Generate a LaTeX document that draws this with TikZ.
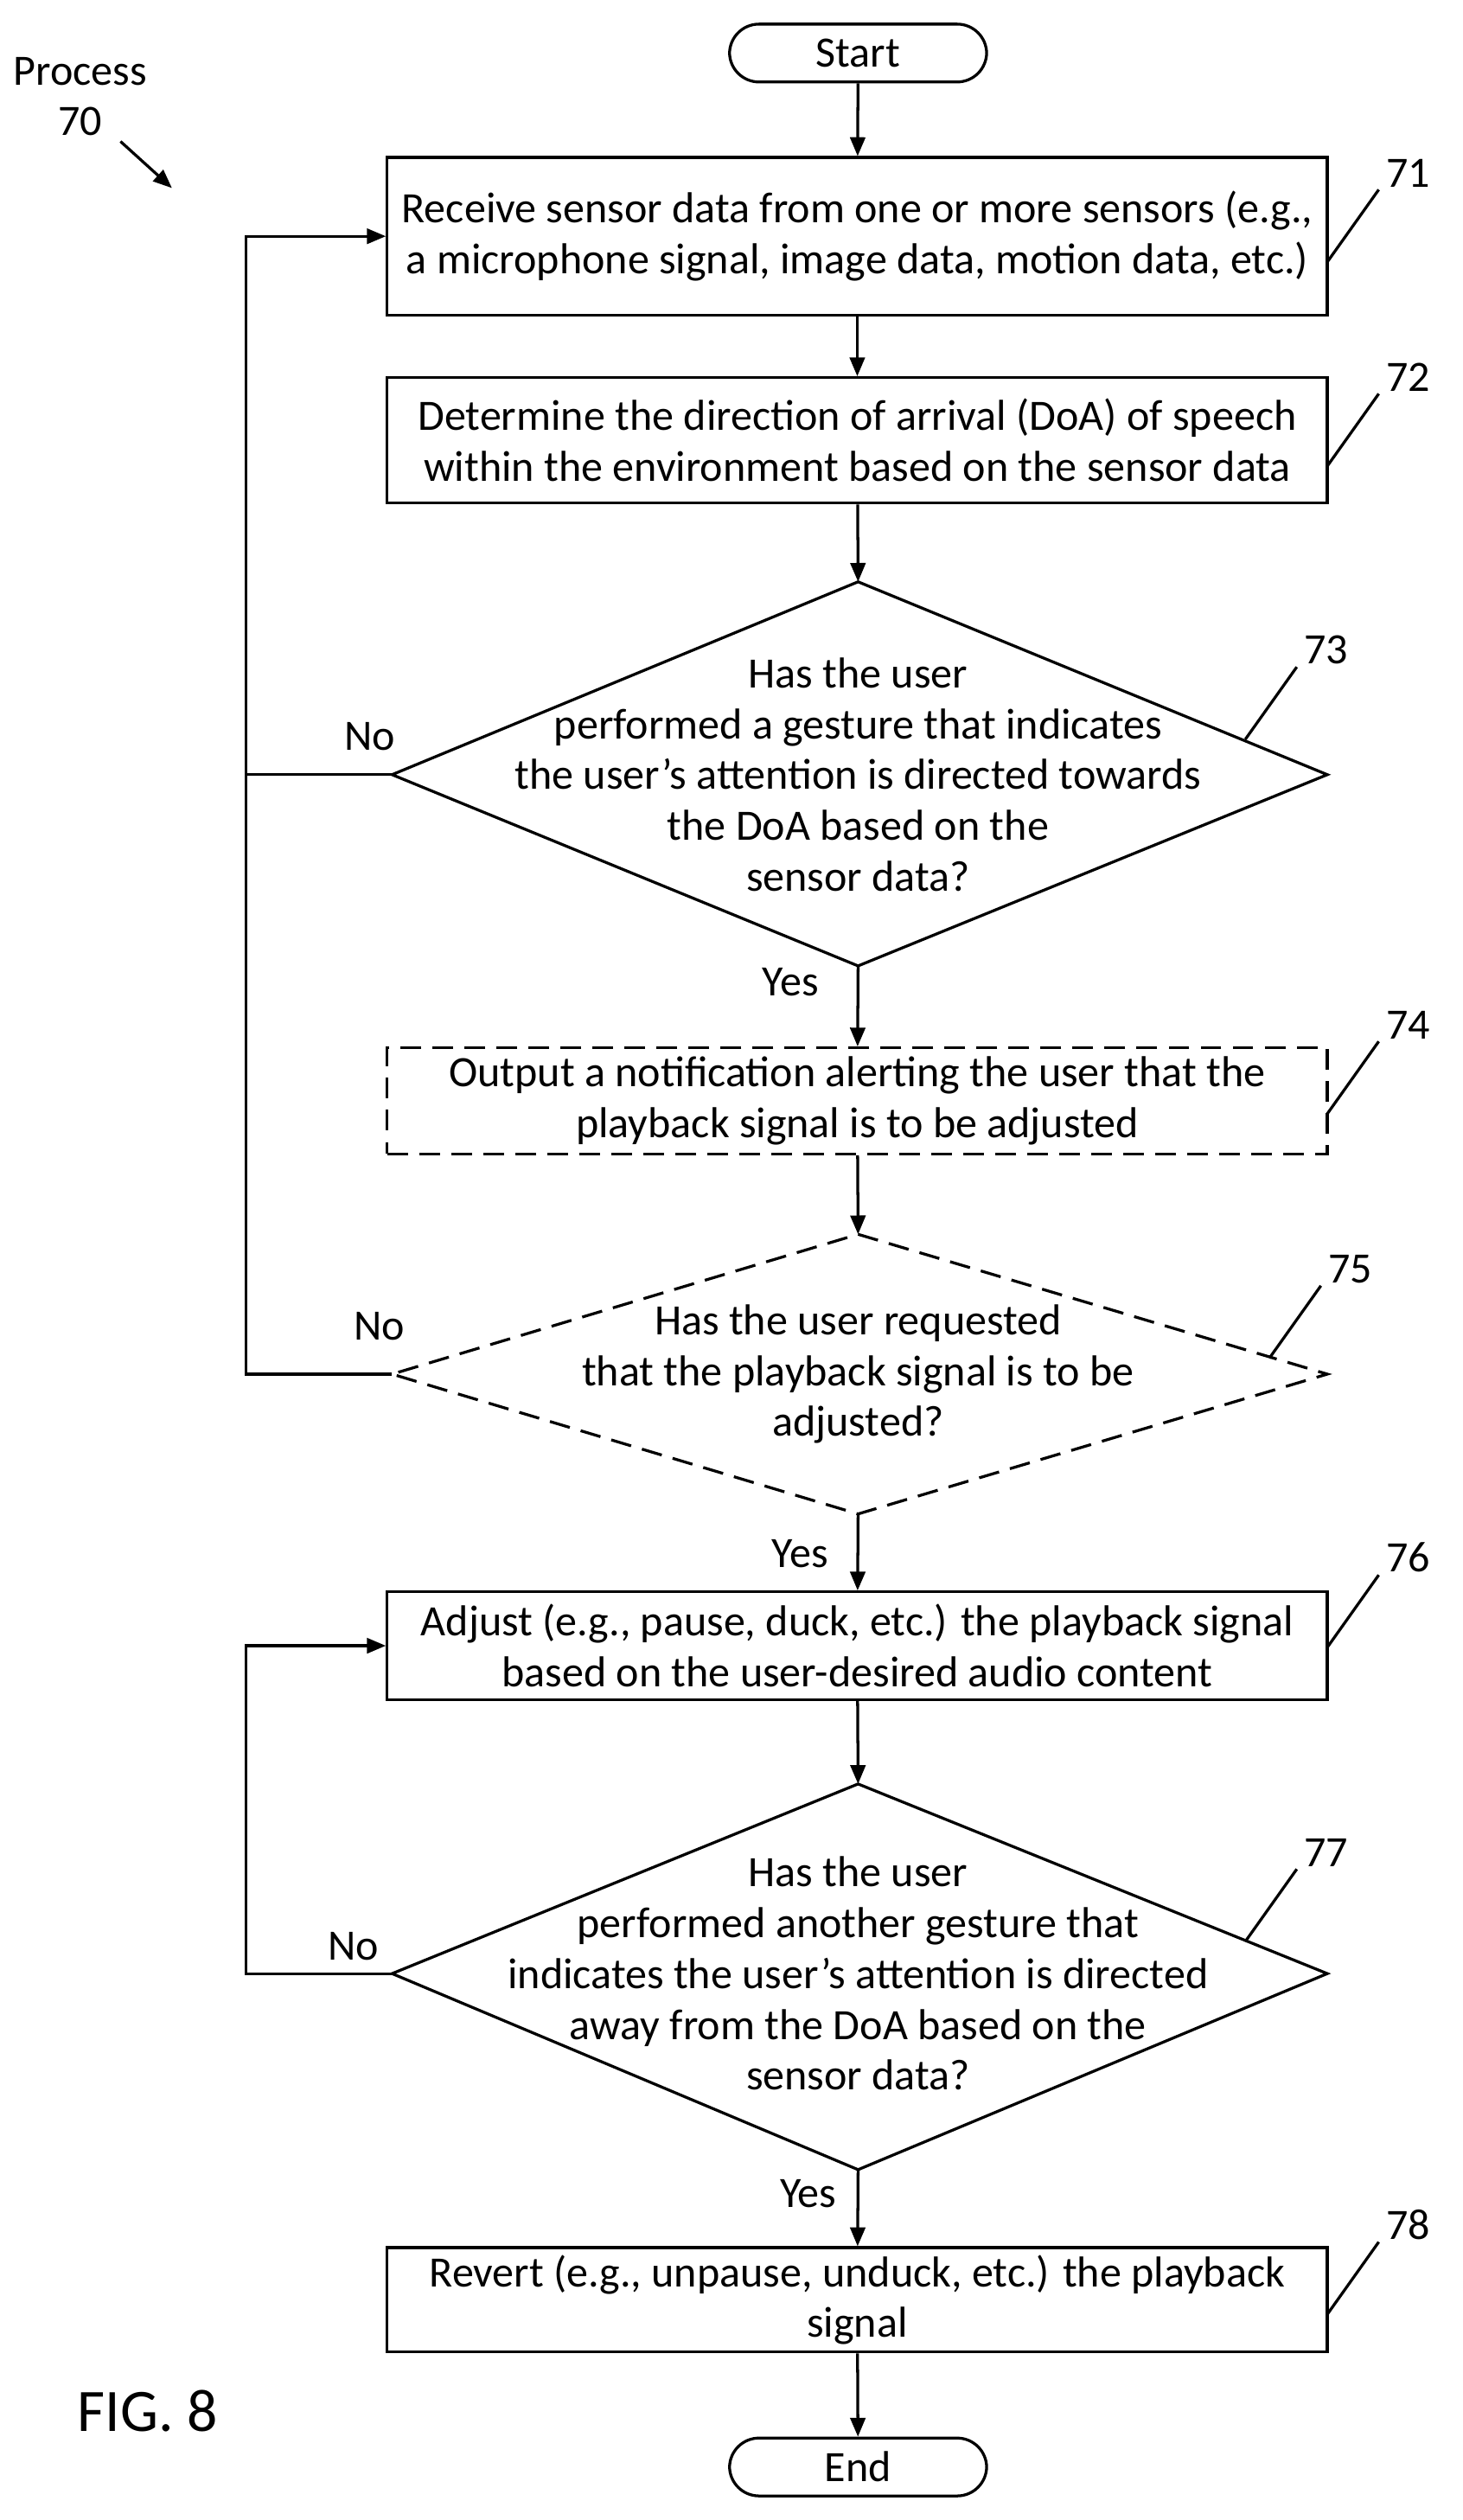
\documentclass[tikz,border=0pt]{standalone}
\usepackage{fontspec}
\setmainfont{Carlito}
\usetikzlibrary{arrows.meta}
\begin{document}
\begin{tikzpicture}[x=0.03cm,y=-0.03cm,
  every node/.style={font=\fontsize{23}{27}\selectfont},
  box/.style={draw,line width=1.5pt,minimum width=17.55cm,align=center,inner sep=0pt},
  term/.style={draw,line width=1.5pt,rounded corners=0.55cm,minimum width=4.8cm,minimum height=1.08cm},
  ln/.style={line width=1.5pt},
  arr/.style={line width=1.5pt,-{Triangle[length=10pt,width=8pt]}},
  dsh/.style={dash pattern=on 11pt off 6pt}]
\useasboundingbox (0,0) rectangle (910,1568);
\node[term] (start) at (534,33) {Start};
\node[box,minimum height=2.94cm] (b71) at (533.5,147) {Receive sensor data from one or more sensors (e.g.,\\a microphone signal, image data, motion data, etc.)};
\node[box,minimum height=2.34cm] (b72) at (533.5,274) {Determine the direction of arrival (DoA) of speech\\within the environment based on the sensor data};
\coordinate (d73t) at (534,362); \coordinate (d73b) at (534,601);
\coordinate (d73l) at (244,482); \coordinate (d73r) at (826,482);
\draw[ln] (d73t)--(d73r)--(d73b)--(d73l)--cycle;
\node[align=center] (t73) at (534,482) {Has the user\\performed a gesture that indicates\\the user’s attention is directed towards\\the DoA based on the\\sensor data?};
\node[box,dsh,minimum height=1.98cm] (b74) at (533.5,685) {Output a notification alerting the user that the\\playback signal is to be adjusted};
\coordinate (d75t) at (534,768); \coordinate (d75b) at (534,942);
\coordinate (d75l) at (244,855); \coordinate (d75r) at (826,855);
\draw[ln,dsh] (d75t)--(d75r)--(d75b)--(d75l)--cycle;
\node[align=center] (t75) at (534,855) {Has the user requested\\that the playback signal is to be\\adjusted?};
\node[box,minimum height=2.01cm] (b76) at (533.5,1024) {Adjust (e.g., pause, duck, etc.) the playback signal\\based on the user-desired audio content};
\coordinate (d77t) at (534,1110); \coordinate (d77b) at (534,1350);
\coordinate (d77l) at (244,1228); \coordinate (d77r) at (826,1228);
\draw[ln] (d77t)--(d77r)--(d77b)--(d77l)--cycle;
\node[align=center] (t77) at (534,1228) {Has the user\\performed another gesture that\\indicates the user’s attention is directed\\away from the DoA based on the\\sensor data?};
\node[box,minimum height=1.95cm] (b78) at (533.5,1431) {Revert (e.g., unpause, unduck, etc.) the playback\\signal};
\node[term] (end) at (534,1535) {End};
\draw[arr] (start)--(b71);
\draw[arr] (b71)--(b72);
\draw[arr] (b72)--(d73t);
\draw[arr] (d73b)--(b74);
\draw[arr] (b74)--(d75t);
\draw[arr] (d75b)--(b76);
\draw[arr] (b76)--(d77t);
\draw[arr] (d77b)--(b78);
\draw[arr] (b78)--(end);
\draw[arr] (d73l)--(153,482)|-(b71.west);
\draw[ln] (d75l)--(153,855)--(153,482);
\draw[arr] (d77l)--(153,1228)|-(b76.west);
\node (n1) at (230,458) {No};
\node (n2) at (236,825) {No};
\node (n3) at (220,1211) {No};
\node (y1) at (492,611) {Yes};
\node (y2) at (498,967) {Yes};
\node (y3) at (503,1365) {Yes};
\foreach \n/\x/\y in {71/826/163,72/826/290,73/775/460,74/826/693,75/790/845,76/826/1025,77/775/1208,78/826/1440}{
  \coordinate (a\n) at (\x,\y);
  \coordinate (c\n) at (\x+32,\y-45);
  \draw[ln] (a\n)--(c\n);
  \node[anchor=south west,inner sep=2pt] (l\n) at (\x+34,\y-44) {\n};
}
\node[align=center] (proc) at (50,60) {Process\\70};
\coordinate (pa) at (75,88); \coordinate (pb) at (107,117);
\draw[arr] (pa)--(pb);
\node[font=\fontsize{32}{38}\selectfont] (fig) at (92,1500) {FIG. 8};
\end{tikzpicture}
\end{document}
